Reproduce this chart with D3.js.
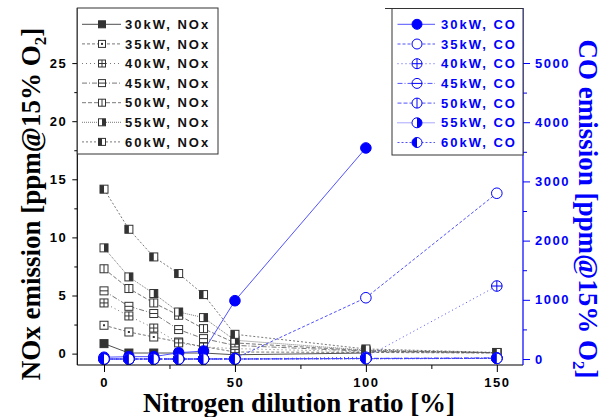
<!DOCTYPE html>
<html>
<head>
<meta charset="utf-8">
<script src="https://cdn.jsdelivr.net/npm/d3@7"></script>
<style>
  body { margin: 0; background: #fff; }
  svg text { font-family: "Liberation Sans", Arial, sans-serif; }
</style>
</head>
<body>
<div id="chart"></div>
<script>
// x values: nitrogen dilution ratio [%]
const ratio = [0, 9.5, 19, 28.5, 38, 50, 100, 150];
const powers = ["30kW", "35kW", "40kW", "45kW", "50kW", "55kW", "60kW"];

// NOx emission [ppm@15% O2]
const nox30 = [0.86, 0.05, 0.05, 0.05, 0.05, -0.1, 0.05, null];
const nox35 = [2.44, 1.86, 1.43, 1.0, 0.6, 0.14, 0.1, 0.05];
const nox40 = [4.36, 3.24, 2.2, 0.92, 0.57, 0.43, 0.15, 0.05];
const nox45 = [5.4, 4.07, 3.45, 2.07, 1.29, 0.71, 0.2, 0.08];
const nox50 = [7.3, 5.6, 4.36, 3.3, 2.15, 0.92, 0.25, 0.08];
const nox55 = [9.1, 6.6, 5.17, 3.58, 3.1, 1.15, 0.3, 0.08];
const nox60 = [14.15, 10.7, 8.32, 6.89, 5.08, 1.66, 0.4, 0.1];

// CO emission [ppm@15% O2]
const co30 = [30, 40, 40, 106, 135, 985, 3565, null];
const co35 = [0, 0, 0, 0, 0, 10, 1035, 2800];
const co40 = [0, 0, 0, 0, 0, 0, 30, 1233];
const co45 = [0, 0, 0, 0, 0, 0, 10, 20];
const co50 = [0, 0, 0, 0, 0, 0, 10, 15];
const co55 = [0, 0, 0, 0, 0, 0, 5, 10];
const co60 = [0, 0, 0, 0, 0, 0, 5, 10];

const xTicks = [0, 50, 100, 150];
const xMinor = [25, 75, 125];
const noxTicks = [0, 5, 10, 15, 20, 25];
const noxMinor = [2.5, 7.5, 12.5, 17.5, 22.5];
const coTicks = [0, 1000, 2000, 3000, 4000, 5000];
const coMinor = [500, 1500, 2500, 3500, 4500];

const noxSeries = [nox30, nox35, nox40, nox45, nox50, nox55, nox60];
const coSeries = [co30, co35, co40, co45, co50, co55, co60];

// per-series look
const dashes = ["", "3,2", "1,3", "5,2,1,2", "4,2", "1,1", "2,2"];
const kinds = ["fill", "dot", "cross", "hline", "vline", "right", "left"];

const W = 604, H = 417;
const blue = "#0000ff";
const lineBlue = "#3d3dff";
const dark = "#333";

const svg = d3.select("#chart").append("svg")
  .attr("width", W).attr("height", H);

const x = d3.scaleLinear().domain([-10.2, 160]).range([77.3, 523]);
const yL = d3.scaleLinear().domain([-0.98, 29.74]).range([365, 8]);
const yR = d3.scaleLinear().domain([-101, 5929]).range([365, 8]);

function square(g, kind, cx, cy, s, col) {
  const h = s / 2;
  g.append("rect").attr("x", cx - h).attr("y", cy - h)
    .attr("width", s).attr("height", s)
    .attr("fill", kind === "fill" ? col : "#fff")
    .attr("stroke", col).attr("stroke-width", 1);
  if (kind === "dot") {
    g.append("rect").attr("x", cx - 1).attr("y", cy - 1)
      .attr("width", 2).attr("height", 2).attr("fill", col);
  } else if (kind === "cross") {
    g.append("path").attr("d", `M${cx - h},${cy}H${cx + h}M${cx},${cy - h}V${cy + h}`)
      .attr("stroke", col).attr("stroke-width", 1);
  } else if (kind === "hline") {
    g.append("path").attr("d", `M${cx - h},${cy}H${cx + h}`)
      .attr("stroke", col).attr("stroke-width", 1);
  } else if (kind === "vline") {
    g.append("path").attr("d", `M${cx},${cy - h}V${cy + h}`)
      .attr("stroke", col).attr("stroke-width", 1);
  } else if (kind === "right") {
    g.append("rect").attr("x", cx).attr("y", cy - h)
      .attr("width", h).attr("height", s).attr("fill", col);
  } else if (kind === "left") {
    g.append("rect").attr("x", cx - h).attr("y", cy - h)
      .attr("width", h).attr("height", s).attr("fill", col);
  }
}

function circle(g, kind, cx, cy, r, col) {
  g.append("circle").attr("cx", cx).attr("cy", cy).attr("r", r)
    .attr("fill", kind === "fill" ? col : "#fff")
    .attr("stroke", col).attr("stroke-width", 1);
  if (kind === "cross") {
    g.append("path").attr("d", `M${cx - r},${cy}H${cx + r}M${cx},${cy - r}V${cy + r}`)
      .attr("stroke", col).attr("stroke-width", 1);
  } else if (kind === "hline") {
    g.append("path").attr("d", `M${cx - r},${cy}H${cx + r}`)
      .attr("stroke", col).attr("stroke-width", 1);
  } else if (kind === "vline") {
    g.append("path").attr("d", `M${cx},${cy - r}V${cy + r}`)
      .attr("stroke", col).attr("stroke-width", 1);
  } else if (kind === "right") {
    g.append("path").attr("d", `M${cx},${cy - r}A${r},${r} 0 0 1 ${cx},${cy + r}Z`)
      .attr("fill", col);
  } else if (kind === "left") {
    g.append("path").attr("d", `M${cx},${cy - r}A${r},${r} 0 0 0 ${cx},${cy + r}Z`)
      .attr("fill", col);
  }
}

// NOx series (left axis)
const noxG = svg.append("g");
noxSeries.forEach((vals, i) => {
  const pts = ratio.map((r, j) => ({ r: r, v: vals[j] })).filter(d => d.v != null);
  noxG.append("path")
    .datum(pts)
    .attr("fill", "none")
    .attr("stroke", i === 0 ? "#222" : "#555")
    .attr("stroke-width", 0.8)
    .attr("stroke-dasharray", dashes[i])
    .attr("d", d3.line().x(d => x(d.r)).y(d => yL(d.v)));
});
noxSeries.forEach((vals, i) => {
  ratio.forEach((r, j) => {
    if (vals[j] == null) return;
    square(noxG, kinds[i], x(r), yL(vals[j]), 8, dark);
  });
});

// CO series (right axis), drawn on top
const coG = svg.append("g");
coSeries.forEach((vals, i) => {
  const pts = ratio.map((r, j) => ({ r: r, v: vals[j] })).filter(d => d.v != null);
  coG.append("path")
    .datum(pts)
    .attr("fill", "none")
    .attr("stroke", lineBlue)
    .attr("stroke-width", 0.9)
    .attr("stroke-dasharray", dashes[i])
    .attr("d", d3.line().x(d => x(d.r)).y(d => yR(d.v)));
});
coSeries.forEach((vals, i) => {
  ratio.forEach((r, j) => {
    if (vals[j] == null) return;
    circle(coG, kinds[i], x(r), yR(vals[j]), 5.3, blue);
  });
});

// axes
const tickFont = g => g.selectAll("text")
  .style("font-size", "13px").style("font-weight", "bold")
  .style("letter-spacing", "1.5px");

const xAxis = svg.append("g").attr("transform", "translate(0,365)")
  .call(d3.axisBottom(x).tickValues(xTicks).tickSize(7).tickPadding(6).tickSizeOuter(0));
xAxis.call(tickFont);
xAxis.select(".domain").remove();
xAxis.selectAll("line").attr("stroke", "#000");
xAxis.selectAll("text").attr("fill", "#000");
svg.append("g").attr("transform", "translate(0,365)")
  .call(d3.axisBottom(x).tickValues(xMinor).tickSize(4).tickFormat(""))
  .call(g => g.select(".domain").remove());

const yAxisL = svg.append("g").attr("transform", "translate(77.3,0)")
  .call(d3.axisLeft(yL).tickValues(noxTicks).tickSize(5).tickPadding(5));
yAxisL.call(tickFont);
yAxisL.select(".domain").remove();
yAxisL.selectAll("text").attr("fill", "#000");
svg.append("g").attr("transform", "translate(77.3,0)")
  .call(d3.axisLeft(yL).tickValues(noxMinor).tickSize(3).tickFormat(""))
  .call(g => g.select(".domain").remove());

const yAxisR = svg.append("g").attr("transform", "translate(523,0)")
  .call(d3.axisRight(yR).tickValues(coTicks).tickFormat(d3.format("d")).tickSize(7).tickPadding(5));
yAxisR.call(tickFont);
yAxisR.select(".domain").remove();
yAxisR.selectAll("line").attr("stroke", blue);
yAxisR.selectAll("text").attr("fill", blue);
svg.append("g").attr("transform", "translate(523,0)")
  .call(d3.axisRight(yR).tickValues(coMinor).tickSize(4).tickFormat(""))
  .call(g => g.select(".domain").remove())
  .call(g => g.selectAll("line").attr("stroke", blue));

// frame lines
svg.append("line").attr("x1", 77.3).attr("x2", 523).attr("y1", 365).attr("y2", 365)
  .attr("stroke", "#000").attr("stroke-width", 1.2);
svg.append("line").attr("x1", 77.3).attr("x2", 77.3).attr("y1", 8).attr("y2", 365)
  .attr("stroke", "#000").attr("stroke-width", 1.2);
svg.append("line").attr("x1", 523).attr("x2", 523).attr("y1", 8).attr("y2", 365)
  .attr("stroke", blue).attr("stroke-width", 1.2);

// legends
function legendBox(x0, y0, x1, y1) {
  svg.append("rect").attr("x", x0).attr("y", y0)
    .attr("width", x1 - x0).attr("height", y1 - y0)
    .attr("fill", "#fff").attr("stroke", dark).attr("stroke-width", 1);
}
legendBox(77.3, 8, 218, 154);
legendBox(392, 8.5, 523, 155);
svg.append("line").attr("x1", 385).attr("x2", 392).attr("y1", 8.5).attr("y2", 8.5)
  .attr("stroke", dark);

const legL = svg.append("g");
powers.forEach((p, i) => {
  const yy = 24.3 + i * 19.6;
  legL.append("line").attr("x1", 82).attr("x2", 121).attr("y1", yy).attr("y2", yy)
    .attr("stroke", i === 0 ? "#222" : "#555").attr("stroke-width", 0.8)
    .attr("stroke-dasharray", dashes[i]);
  square(legL, kinds[i], 102, yy, 7, dark);
  legL.append("text").attr("x", 125).attr("y", yy + 4.6)
    .style("font-size", "13px").style("font-weight", "bold")
    .style("letter-spacing", "2px").attr("fill", "#111")
    .text(p + ", NOx");
});

const legR = svg.append("g");
powers.forEach((p, i) => {
  const yy = 24.3 + i * 19.7;
  legR.append("line").attr("x1", 397.5).attr("x2", 435).attr("y1", yy).attr("y2", yy)
    .attr("stroke", lineBlue).attr("stroke-width", 0.9)
    .attr("stroke-dasharray", dashes[i]);
  circle(legR, kinds[i], 417, yy, 5, blue);
  legR.append("text").attr("x", 441).attr("y", yy + 4.6)
    .style("font-size", "13px").style("font-weight", "bold")
    .style("letter-spacing", "2px").attr("fill", blue)
    .text(p + ", CO");
});

// axis titles
const serif = '"Liberation Serif", "Times New Roman", serif';
svg.append("text")
  .attr("x", 299).attr("y", 412)
  .attr("text-anchor", "middle")
  .style("font-family", serif).style("font-size", "27px").style("font-weight", "bold")
  .text("Nitrogen dilution ratio [%]");

function yTitle(cx, cy, rot, lead, col) {
  const t = svg.append("text")
    .attr("transform", `translate(${cx},${cy}) rotate(${rot})`)
    .attr("text-anchor", "middle")
    .attr("fill", col)
    .style("font-family", serif).style("font-size", "27px").style("font-weight", "bold");
  t.append("tspan").text(lead + " emission [ppm@15% O");
  t.append("tspan").attr("dy", 6).style("font-size", "17px").text("2");
  t.append("tspan").attr("dy", -6).text("]");
}
yTitle(40, 204, -90, "NOx", "#000");
yTitle(579, 209, 90, "CO", blue);
</script>
</body>
</html>
